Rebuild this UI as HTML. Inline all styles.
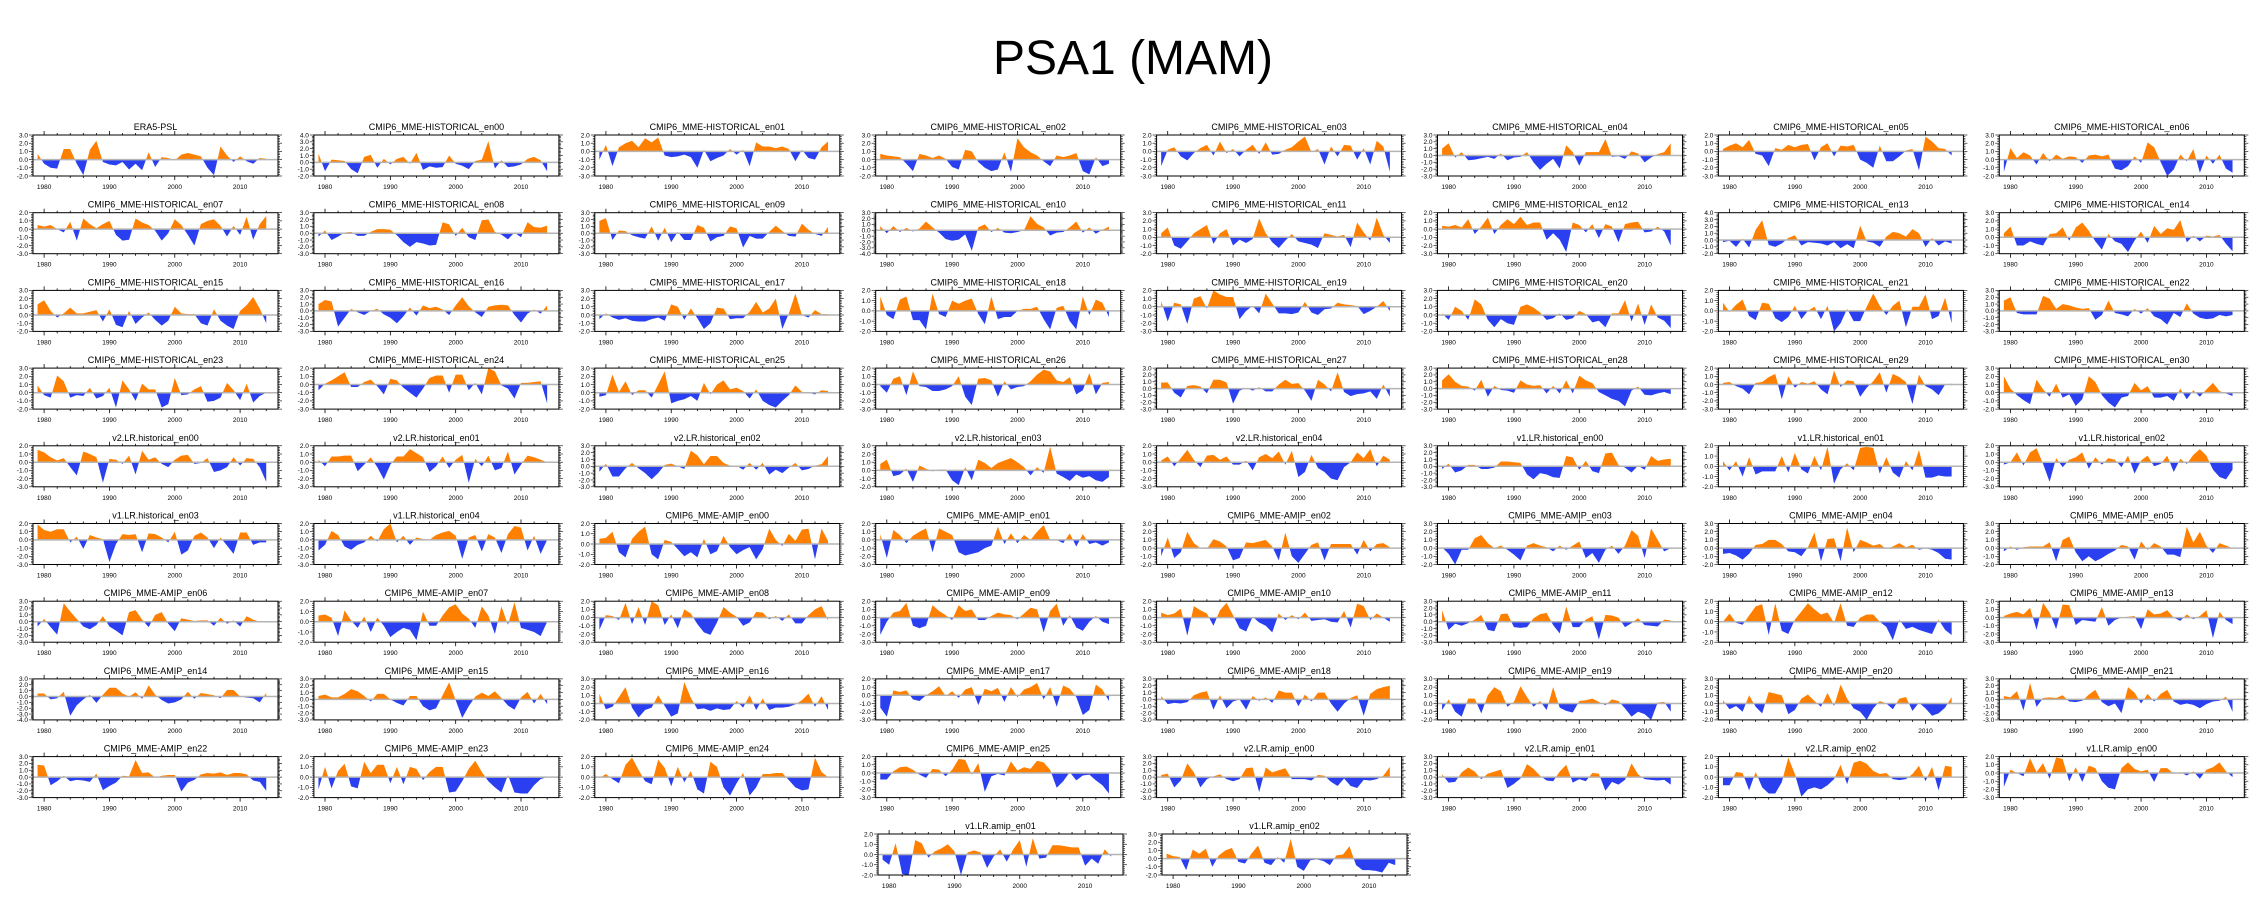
<!DOCTYPE html>
<html><head><meta charset="utf-8"><title>PSA1 (MAM)</title>
<style>
html,body{margin:0;padding:0;background:#fff;}
svg{display:block;font-family:"Liberation Sans",Arial,sans-serif;}
</style></head>
<body>
<svg id="fig" width="2267" height="919" viewBox="0 0 2267 919" xmlns="http://www.w3.org/2000/svg">
<rect width="2267" height="919" fill="#fff"/>
<text x="1133" y="74" font-size="48" text-anchor="middle" fill="#000">PSA1 (MAM)</text>
</svg>
<script>
const titles = ["ERA5-PSL"];
for (let i = 0; i <= 30; i++) titles.push("CMIP6_MME-HISTORICAL_en" + String(i).padStart(2, "0"));
for (let i = 0; i <= 4; i++) titles.push("v2.LR.historical_en0" + i);
for (let i = 0; i <= 4; i++) titles.push("v1.LR.historical_en0" + i);
for (let i = 0; i <= 25; i++) titles.push("CMIP6_MME-AMIP_en" + String(i).padStart(2, "0"));
for (let i = 0; i <= 2; i++) titles.push("v2.LR.amip_en0" + i);
for (let i = 0; i <= 2; i++) titles.push("v1.LR.amip_en0" + i);

const years = [];
for (let y = 1979; y <= 2014; y++) years.push(y);
const xTicks = [1980, 1990, 2000, 2010];

const yMax = [3,4,2,3,2,3,2,3, 2,3,3,3,3,2,4,3, 3,3,3,2,2,3,2,3, 3,2,3,2,3,3,2,3, 2,2,3,3,2,3,2,2, 2,2,2,2,3,3,3,3, 3,2,2,2,2,3,2,2, 3,3,3,2,3,3,3,3, 3,2,2,2,3,3,2,2, 2,3];
const yMin = [-2,-2,-3,-2,-3,-3,-3,-2, -3,-3,-3,-4,-2,-3,-2,-2, -2,-3,-2,-2,-3,-2,-2,-3, -2,-3,-2,-3,-3,-3,-3,-2, -3,-3,-3,-2,-3,-3,-2,-3, -3,-3,-2,-3,-2,-2,-2,-2, -3,-2,-3,-3,-3,-3,-2,-3, -4,-3,-2,-3,-3,-2,-2,-3, -3,-2,-2,-3,-3,-3,-2,-3, -2,-2];

const series = [
[0.7,-0.5,-1.0,-1.1,1.3,1.3,-0.5,-1.9,1.2,2.3,-0.3,-0.6,-0.7,-0.3,-1.2,-0.5,-1.3,0.9,-0.9,0.3,0.2,-0.1,0.6,0.8,0.6,0.4,-1.0,-1.9,1.6,0.5,-0.3,0.4,-0.2,-0.5,0.2,0.1],
[1.3,-1.3,0.4,0.3,0.2,-1.0,-1.6,0.8,1.1,-0.8,0.5,-0.3,0.5,0.8,-0.2,1.4,-1.1,-0.6,-0.8,-0.7,1.0,-0.2,-0.5,-1.0,0.2,0.4,3.1,-0.9,0.3,-0.7,-0.6,-0.3,0.5,0.8,0.3,-1.3],
[-1.0,0.8,-1.8,0.5,1.0,1.3,0.5,1.6,1.1,1.7,-0.5,-0.7,-0.6,-0.4,-0.7,-2.0,0.2,-1.2,-0.8,-0.5,0.3,-0.4,0.2,-1.8,1.1,0.6,0.6,0.4,0.6,0.3,-1.2,0.2,-0.8,-1.0,0.5,1.2],
[0.7,0.5,0.4,0.3,-0.5,-1.4,0.7,0.5,0.2,0.5,0.1,-0.9,-1.2,1.2,1.0,-0.3,-1.0,-1.4,-1.2,0.9,-1.5,2.6,1.5,0.9,0.5,-0.2,-0.8,0.5,0.3,0.5,0.8,-1.4,-1.8,0.3,-0.8,-0.5],
[-1.8,0.2,0.5,-0.6,-1.1,-0.2,0.4,0.8,-0.5,1.2,-0.2,0.3,-0.6,0.2,0.8,-0.3,1.1,-0.4,-0.3,0.2,0.5,1.2,1.8,-0.1,0.3,-1.6,0.6,-0.6,0.8,0.7,-1.0,0.4,-1.6,1.3,0.6,-2.5],
[1.0,1.8,-0.3,0.5,-0.7,-0.6,-0.4,-0.2,-0.5,0.3,-0.7,-0.3,-0.2,0.5,-1.0,-2.1,-1.2,-0.5,-1.9,1.5,0.5,-1.5,0.5,0.5,0.5,2.4,-0.2,-0.1,-0.5,0.6,0.3,-1.0,-0.3,0.2,0.5,1.8],
[0.3,0.7,1.0,0.5,1.4,-0.3,-0.5,-1.8,0.4,0.2,0.8,0.5,0.8,0.9,-1.1,0.5,1.0,-0.6,0.7,0.6,0.8,-1.0,-1.4,-2.0,0.7,-1.2,-1.2,-0.6,0.1,0.3,-2.3,1.8,1.2,0.4,0.3,-0.5],
[-1.5,1.4,0.2,0.9,0.5,-0.6,0.8,-0.2,0.6,0.1,0.4,0.3,-0.4,0.5,0.6,0.4,0.6,-1.1,-1.3,-0.8,0.4,-0.4,2.1,1.5,-0.3,-2.0,-1.2,0.6,-0.2,1.3,-1.6,0.5,-0.5,0.6,-1.1,-1.6],
[0.5,0.3,0.5,0.0,-0.4,0.9,-1.4,1.3,0.6,0.1,0.6,1.0,-0.7,-1.4,-1.3,1.3,0.8,0.5,-0.2,-1.4,-0.5,1.2,0.5,-0.7,-2.0,0.6,1.0,1.2,0.4,-0.9,0.4,-0.7,1.5,-1.3,0.6,1.6],
[-0.5,0.4,-1.0,-0.5,0.1,0.2,-0.4,-0.4,0.2,0.6,0.6,0.5,-0.3,-1.3,-2.0,-1.3,-1.5,-1.8,-1.7,1.6,1.3,-0.4,0.8,-0.6,-1.0,1.9,2.0,0.2,-0.2,-0.9,0.1,-0.6,1.6,0.9,0.8,1.1],
[1.8,2.2,-1.0,0.4,0.3,-0.3,-0.6,-0.8,1.0,-1.1,0.8,-1.3,0.2,-1.0,-1.0,1.2,0.8,-1.2,-0.6,-0.4,1.0,0.7,-2.1,-0.4,-0.8,-0.8,0.2,1.1,0.3,-0.4,-0.5,1.4,0.5,-0.1,-0.4,0.9],
[0.7,-0.5,0.7,-0.3,0.4,-0.2,0.3,1.5,0.5,-0.4,-1.5,-1.8,-1.6,-0.7,-3.5,0.5,1.0,-0.3,0.4,-0.4,-0.5,-0.3,0.0,2.4,1.1,0.5,-0.9,-0.4,-0.3,0.5,1.5,-0.4,0.5,-0.6,0.1,0.6],
[0.5,1.2,-1.0,-1.4,-0.5,0.5,1.0,1.5,-0.8,0.5,1.0,-1.0,-0.3,-0.7,-0.2,2.3,0.5,-0.6,-1.3,-0.4,0.4,-0.5,-0.7,-0.9,-1.3,0.5,0.3,0.1,0.3,-1.2,1.8,0.6,-0.4,2.4,0.3,-0.7],
[0.4,0.3,0.5,0.2,1.2,-0.6,0.3,1.4,-0.6,0.5,1.2,0.6,1.5,0.5,0.8,0.8,-1.3,-0.5,-1.3,-2.8,0.8,0.5,-0.4,0.6,-1.1,0.6,0.3,-1.6,0.6,0.8,0.9,-0.4,-0.3,0.3,-0.3,-2.0],
[-0.3,-0.1,-1.0,0.2,-1.1,1.5,2.9,-0.7,-1.0,-0.5,0.3,0.7,-0.8,-0.3,-0.4,-0.5,-0.8,-0.3,-1.2,-0.6,-1.2,2.1,-0.2,-0.4,-1.0,0.5,1.2,1.0,0.5,1.6,1.0,-1.0,0.3,-0.8,-0.2,-0.5],
[0.5,1.3,-1.0,-1.0,-0.5,-0.8,-1.0,0.4,0.5,1.2,-0.4,1.2,1.8,0.8,-0.5,-1.5,0.4,-0.5,-0.8,-1.8,-0.4,0.7,-0.7,1.4,0.4,1.1,0.9,2.1,-0.6,0.2,-0.5,0.2,0.1,0.3,-0.8,-1.7],
[1.3,1.8,0.5,-0.3,0.2,0.9,0.2,0.2,0.4,0.6,-0.8,0.7,-1.2,-1.5,0.5,-1.1,-0.3,0.3,-0.6,-1.3,-0.7,1.0,0.2,0.1,0.1,-1.0,-1.3,0.7,-0.7,-1.3,-1.7,0.5,1.2,2.2,0.8,-1.0],
[1.0,1.6,1.4,-2.3,-1.0,0.3,-0.2,-0.6,0.0,0.3,-0.5,-1.0,-1.8,-0.8,0.5,-0.7,0.8,0.4,0.6,0.2,-0.6,0.8,2.0,0.7,-0.2,-0.9,0.6,0.8,0.9,0.8,-0.6,-1.7,-0.4,0.2,-0.4,0.8],
[-0.5,0.2,-0.3,-0.6,-0.4,-0.7,-0.8,-0.8,-0.5,-0.3,-0.7,1.3,1.0,-0.6,0.8,-0.4,-1.7,-1.0,0.9,0.8,-0.5,-0.4,-0.4,0.4,1.6,0.3,0.8,2.0,-1.7,0.2,2.6,0.0,-0.3,0.6,0.1,0.1],
[1.4,-0.4,-0.8,1.1,1.4,-0.9,-0.9,-1.8,1.7,-0.3,-0.6,1.0,0.7,1.0,1.2,-0.3,-1.3,1.4,-0.8,-0.6,-0.6,0.0,0.2,0.2,0.4,-0.8,-1.8,0.3,0.5,-1.0,-1.8,1.4,-0.4,1.1,0.8,-0.6],
[0.7,-1.8,0.5,0.3,-2.1,1.0,1.3,-0.2,2.0,1.5,1.2,1.2,-1.5,-0.5,0.1,-0.8,1.6,0.4,-0.8,-0.8,-0.9,-0.7,0.6,-0.7,-1.0,-0.3,-0.2,0.5,0.3,0.2,0.1,-0.9,-0.5,0.0,0.7,-0.5],
[0.2,-0.6,1.0,0.5,-0.6,1.9,1.3,-0.6,-1.5,-0.5,-1.0,-1.2,1.0,1.3,0.9,0.3,-0.6,-0.4,0.2,-0.6,-0.4,0.5,0.1,-0.9,-0.7,-1.5,0.2,0.2,1.8,-0.8,1.4,-1.2,1.3,-0.3,-0.7,-1.6],
[0.8,-0.1,0.6,1.1,-0.5,-0.9,0.8,0.7,-0.7,-1.1,-0.6,0.5,-0.8,0.0,0.4,-0.8,0.5,-2.0,-1.2,0.2,-1.0,-1.0,0.4,1.7,0.5,-0.4,0.5,1.0,-1.6,0.4,0.4,1.6,-0.8,-0.5,1.3,-1.2],
[1.5,2.0,-0.3,-0.5,-0.5,-0.5,2.2,1.8,0.3,1.0,0.8,0.5,0.3,0.4,-1.3,-0.6,1.5,-0.3,-0.5,-0.8,0.3,-0.4,0.4,-0.8,-1.2,-2.0,-0.3,-0.9,1.1,-0.4,-1.0,-1.2,-1.1,-0.6,-0.8,-0.6],
[0.9,-0.3,-0.6,2.1,1.4,-0.6,-0.3,-0.4,0.6,-0.7,-0.4,0.6,-1.8,1.5,0.4,-1.0,1.1,0.4,0.4,-1.8,-1.4,1.8,-0.3,-0.2,0.4,0.8,-1.1,-1.0,-0.6,1.2,0.3,-0.9,1.1,-1.2,-0.4,0.0],
[-0.7,0.1,0.5,1.0,1.5,-0.3,-0.3,0.3,0.6,-0.2,-1.2,0.7,0.5,-0.4,-1.0,-1.6,-0.5,0.8,1.1,1.1,-1.0,1.2,1.2,-0.7,0.2,-1.2,2.0,1.6,-0.1,-0.5,-1.7,0.2,0.2,0.3,0.4,-2.3],
[-0.5,-0.3,2.2,0.1,1.4,-0.3,0.3,0.3,-0.6,1.0,2.6,-1.3,-1.0,-0.8,-0.4,-1.0,1.2,-0.2,1.0,1.5,0.4,0.6,0.2,-0.7,0.4,-1.0,-1.5,-1.8,-1.0,-0.3,0.9,0.1,0.0,-0.2,0.3,0.2],
[-0.2,-1.0,0.7,1.0,-1.3,1.6,-0.2,-0.3,-0.8,-0.8,-0.6,-0.2,1.0,-1.5,-2.5,0.7,0.8,0.5,-1.5,0.4,-0.6,-0.3,-0.2,0.4,1.2,1.8,1.6,0.5,0.3,0.9,-1.2,-0.7,1.4,-1.2,0.2,0.3],
[0.9,0.9,-0.6,-1.3,0.4,0.5,0.3,-0.7,1.3,1.3,0.9,-2.2,-0.3,0.1,-0.3,0.2,-0.4,-0.4,0.6,1.3,0.7,0.8,-0.3,-1.8,1.3,0.6,-0.4,2.4,-0.5,-1.1,-0.8,-0.7,-0.4,-1.5,0.6,-1.2],
[1.2,2.1,1.0,0.4,0.3,-0.3,1.3,-1.2,0.4,-0.2,-0.3,-0.6,1.2,0.6,0.4,0.5,-0.7,0.4,-0.7,1.2,-0.7,1.9,1.2,0.8,-0.5,-1.0,-1.5,-1.8,-2.6,-0.3,0.3,-0.9,-1.0,-0.7,-0.5,-0.8],
[0.2,0.3,-0.2,-0.5,-1.2,0.2,0.3,0.9,1.3,-1.8,1.0,-0.4,0.3,0.1,0.4,-0.6,-1.2,1.7,-0.3,0.5,0.4,-1.5,-0.4,0.4,1.5,-1.0,1.3,0.9,0.3,-2.4,1.2,-0.2,-0.6,-1.3,0.0,0.1],
[2.0,0.5,-0.3,-0.9,-1.4,1.6,0.4,-0.5,1.1,-0.6,-0.2,-1.6,-0.8,2.0,1.3,-0.3,-1.2,-1.8,-0.6,-0.4,1.2,0.3,0.8,-0.6,-0.6,-0.4,-1.0,0.5,-0.8,0.3,-0.5,0.4,1.2,0.2,-0.1,-0.4],
[1.5,1.2,0.6,0.2,0.5,-0.6,-1.6,1.3,1.0,0.6,-2.5,0.4,0.3,-0.2,0.8,-1.5,1.4,0.3,0.6,-0.2,-0.6,0.3,0.8,0.9,-0.2,-0.1,0.5,-1.2,-1.0,-0.6,0.6,-0.4,0.5,0.4,-0.6,-2.4],
[0.3,-0.5,0.7,0.7,0.8,0.8,-1.1,-0.3,0.6,-0.6,-2.1,-0.3,0.7,0.7,1.6,1.1,0.6,-1.2,-0.5,0.7,-0.7,0.3,0.9,-2.5,0.4,-0.5,0.8,-1.0,-0.7,1.3,-1.5,-0.3,0.8,0.6,0.3,0.0],
[-0.8,0.4,-1.5,-1.5,-0.3,0.5,-0.3,-1.0,-1.9,-1.0,0.2,0.4,0.0,-0.4,2.3,1.6,0.3,1.5,1.5,0.5,0.1,0.1,-0.5,0.5,-0.5,0.5,-1.2,-0.5,-1.0,-0.2,0.5,-0.6,-0.4,0.1,0.3,1.5],
[0.8,1.3,-0.7,-0.5,0.2,-1.4,0.6,0.2,-0.1,0.1,0.1,-1.2,-1.8,0.4,-1.2,1.3,0.9,0.3,0.9,1.2,1.5,1.0,0.4,-0.6,0.4,-0.3,2.9,-0.4,-0.8,-1.3,-0.5,-0.9,-0.7,-1.2,-1.4,-0.8],
[0.2,0.7,-0.5,0.5,1.5,0.3,-0.6,0.8,0.9,0.3,0.7,-0.3,-0.3,0.2,-1.0,0.6,1.0,0.5,1.3,-0.3,1.4,-1.8,-1.2,0.9,-0.7,-1.2,-2.0,-2.2,-0.6,0.0,1.2,0.5,1.6,-0.5,0.8,0.3],
[-0.4,0.4,-0.9,-0.6,0.2,0.2,-0.4,-0.4,-0.2,0.7,0.7,0.6,0.5,-1.2,-1.9,-1.0,-1.2,-1.6,-1.7,1.5,1.3,-0.5,0.8,-0.7,-1.0,1.9,2.0,0.2,-0.2,-0.9,0.1,-0.5,1.5,0.8,1.0,1.1],
[0.5,-0.4,0.5,-1.0,0.9,-0.8,-0.5,-0.5,-0.5,1.0,-0.6,1.3,-0.3,-0.7,1.0,-0.4,1.9,-1.7,-0.3,0.3,-0.4,1.8,1.9,1.8,-0.7,0.9,-0.6,-1.1,0.5,-0.4,1.6,-1.1,-1.1,-0.9,-1.0,-1.0],
[-0.3,0.0,1.2,-0.4,1.2,1.7,-0.2,-2.4,0.5,-0.6,0.3,0.6,1.2,-0.8,0.6,-0.3,0.5,0.3,-0.6,0.8,-1.4,0.2,0.8,-0.5,-0.2,0.8,-1.2,0.4,-0.2,0.9,1.6,0.8,-0.9,-1.8,-2.1,-0.9],
[1.9,1.2,1.0,1.3,1.3,-0.3,0.4,-1.1,0.6,0.3,0.1,-2.7,-0.5,0.7,0.6,0.7,-1.5,0.8,0.7,0.3,-0.3,1.0,-1.8,-1.3,0.5,0.9,0.3,-1.0,0.3,-0.7,-1.7,0.9,0.9,-0.6,-0.3,-0.3],
[-1.3,-0.6,1.1,0.6,-0.8,-1.2,-0.6,-0.3,0.5,-0.2,1.3,2.0,-0.3,0.5,-0.6,0.3,0.1,0.0,0.6,0.9,1.1,0.5,-2.3,0.3,0.6,-1.4,0.7,0.3,-1.6,0.7,1.7,1.5,-1.3,0.5,-1.7,0.0],
[0.5,0.6,1.2,-0.8,-1.3,0.5,1.2,1.7,-1.0,-1.5,0.4,0.2,-0.5,-1.2,-0.8,-1.3,0.5,-1.0,-0.7,0.8,-0.3,-1.0,-0.6,-0.3,-1.5,-0.5,1.5,0.4,-0.2,1.0,0.3,1.4,1.5,-1.5,1.5,0.3],
[0.7,-2.2,1.2,0.6,-0.4,0.5,1.0,1.4,-1.5,1.4,1.0,0.6,-1.5,-1.9,-1.7,-1.5,-1.0,-0.7,1.6,-0.5,0.8,-0.4,0.6,0.0,1.0,1.8,0.0,0.0,-0.4,0.8,-0.8,0.7,-0.5,-0.3,-0.7,-0.3],
[-1.0,1.3,-1.2,-0.5,2.0,0.6,0.0,-0.1,1.1,0.8,0.2,-1.5,-1.2,0.7,0.6,0.8,1.0,0.2,-1.5,1.9,-1.0,-1.8,-0.7,0.4,0.7,-1.5,0.5,0.5,0.5,0.5,-0.8,1.0,-0.4,0.5,0.6,0.1],
[0.1,-0.7,-2.0,-0.2,-0.2,1.2,1.6,0.6,0.0,0.3,-0.2,-0.8,-1.5,0.3,0.6,0.3,0.1,-0.4,0.3,-0.2,0.3,0.8,-1.2,-0.6,-1.8,-0.2,0.3,-0.7,0.3,2.2,1.5,-1.2,2.4,1.0,-0.4,0.0],
[-0.7,-0.6,-0.9,-1.4,-0.7,0.4,0.5,1.0,1.0,0.5,-0.4,-0.5,-1.0,0.1,1.9,-1.6,1.1,1.2,-1.6,2.5,-0.5,1.0,0.7,0.3,0.5,-0.1,0.2,0.6,0.1,0.4,-0.2,0.0,-0.2,-0.6,-1.3,-1.4],
[-0.4,0.2,-0.2,0.1,0.2,0.2,0.2,0.7,-1.6,1.0,1.4,-0.5,-1.6,-1.0,-1.6,-1.2,-0.7,-0.3,0.4,0.2,-1.4,0.8,-0.2,0.6,0.2,-0.8,-0.8,-1.1,2.6,0.7,2.0,0.3,-0.6,0.6,0.3,0.0],
[-0.7,0.4,-0.8,-1.9,2.7,1.5,0.4,-0.7,-1.1,-0.5,0.8,-0.7,-1.3,-2.0,1.4,1.7,0.3,-0.8,1.0,1.4,-0.3,-1.4,0.5,0.3,0.1,0.2,0.2,-0.6,0.6,-0.3,0.2,-0.7,0.8,0.3,0.0,-0.1],
[0.6,0.7,0.4,-1.4,1.1,0.1,-0.6,0.5,-1.0,0.4,-0.4,-1.5,-1.0,-0.6,-0.8,-1.8,1.0,-0.4,-0.4,0.6,1.4,1.7,0.8,0.3,-0.6,1.5,0.6,-1.2,1.5,-0.3,1.9,-0.6,-0.8,-1.0,-1.4,0.0],
[-1.5,0.3,0.2,-0.3,1.8,-0.8,1.3,-0.9,2.0,1.5,-0.9,0.4,-1.3,1.0,0.5,-0.8,-1.8,-2.1,-0.6,1.3,0.6,0.1,-1.0,-0.6,0.7,0.6,-0.2,0.2,-0.4,0.4,-0.7,-0.7,0.3,1.0,1.4,-0.3],
[-2.1,-0.5,0.6,0.8,1.8,-1.0,-1.3,-1.0,1.5,0.8,0.3,-0.3,1.5,0.8,1.0,-0.3,-0.3,0.2,0.6,0.4,0.3,-0.2,0.5,1.2,1.0,-1.8,0.8,1.7,-1.0,0.3,-1.2,-1.6,-0.5,0.2,-0.5,-0.8],
[0.6,0.3,0.5,1.1,-2.2,1.4,0.9,0.5,-1.0,0.9,1.8,0.3,-1.3,-1.7,0.1,-0.6,-1.0,-1.8,0.5,-0.3,0.3,-0.2,0.6,-0.4,-0.3,-0.2,-0.5,-0.6,0.8,-1.2,1.7,1.4,-0.3,0.5,0.0,-0.5],
[1.7,-1.2,-0.3,-0.6,-0.2,0.3,1.0,-1.2,-1.4,1.1,1.2,-0.8,-0.9,-0.8,0.5,1.1,1.3,-0.5,-1.7,2.2,-0.8,-0.8,0.3,0.8,-2.6,1.0,0.9,0.6,-0.8,-0.2,0.5,-0.5,-0.6,-0.7,0.3,0.2],
[0.0,0.8,-0.1,-0.3,0.6,1.5,1.7,-1.3,1.8,-0.9,-1.2,0.2,1.0,1.8,1.2,0.7,0.9,-0.1,1.8,-0.4,-0.5,0.4,0.7,0.7,0.0,-0.5,-1.8,0.2,-0.7,-0.5,-0.8,-1.0,-1.2,0.2,-0.8,-1.3],
[0.2,0.5,0.7,0.4,1.2,-1.5,1.8,0.6,-1.4,1.6,1.5,-0.9,-0.3,-0.4,-0.5,1.3,-1.0,-0.3,0.0,0.1,0.2,-1.4,1.0,0.4,0.5,0.9,0.0,-0.4,0.4,-0.2,0.2,0.9,-2.5,0.7,-0.3,-0.8],
[0.5,0.5,-0.5,-0.3,0.8,-3.3,-1.5,-0.5,0.3,-1.1,0.3,1.5,1.5,0.5,0.0,0.7,-0.4,1.9,0.3,-0.6,-1.2,-1.0,-0.5,0.8,-0.4,0.6,0.4,0.2,-0.3,1.1,1.1,0.0,-0.2,-0.3,-1.0,0.6],
[0.5,0.7,0.3,0.3,0.8,1.5,1.2,0.5,-0.3,0.8,0.8,0.0,-0.5,-0.9,0.5,0.5,-1.0,-1.6,-1.3,0.6,2.5,-0.1,-2.7,-1.0,0.4,1.0,0.5,1.2,0.2,-0.9,-1.5,0.3,1.1,-0.6,0.8,-0.7],
[1.2,-0.7,-0.4,0.8,2.0,-0.5,-1.7,-0.8,-0.5,1.0,-0.3,-1.6,-1.2,2.6,0.7,-0.7,-0.6,-0.9,-0.6,-0.8,-0.7,0.3,-0.5,1.0,-0.8,0.6,-0.8,-0.5,-0.5,-0.4,-0.1,0.4,1.2,-0.4,0.9,-0.8],
[-1.5,-2.6,0.6,0.4,0.6,-0.5,-0.7,0.0,0.5,1.1,-0.1,0.5,-0.3,0.7,1.0,-1.2,0.8,0.5,0.9,-0.8,1.0,-0.2,0.7,1.0,1.5,-0.5,1.0,-1.4,1.2,0.8,-0.2,-2.4,-1.8,1.3,0.7,-0.7],
[0.5,-0.7,-0.5,-0.6,-0.4,0.6,1.0,1.2,-1.5,0.6,-1.3,-0.3,0.0,-1.5,0.5,-0.2,0.3,-0.5,1.3,1.0,1.0,-1.0,0.7,-0.3,1.0,1.0,-0.6,-1.8,-0.6,0.2,0.6,-2.4,0.8,1.5,1.8,2.0],
[-0.8,0.5,-1.0,-1.6,0.6,0.6,-1.2,1.0,2.0,1.5,-0.4,0.2,2.1,0.8,-0.4,0.3,-0.8,2.0,-0.5,-0.9,-1.1,0.3,0.4,0.6,0.2,-0.2,0.5,0.3,-0.6,-1.6,-1.0,-1.3,-2.0,0.1,0.2,-1.0],
[0.4,-0.7,-0.3,-1.0,1.0,-0.4,-1.2,1.4,1.2,1.0,-1.3,-0.8,0.6,1.1,0.3,-0.4,1.3,-0.3,2.3,0.6,-0.6,-1.0,-2.0,-0.6,0.3,0.0,-0.7,0.6,0.8,-0.9,0.1,-0.6,-1.5,-1.2,-0.5,0.8],
[0.5,0.3,1.2,-1.6,2.4,-1.1,0.2,0.3,0.2,0.6,-0.3,-0.4,-0.2,0.7,1.4,-0.4,-1.0,-0.6,-2.0,1.8,1.0,-0.6,0.8,-0.3,0.8,1.4,-0.3,-0.8,-0.6,-0.8,-1.3,-0.7,-0.3,-0.2,0.4,-1.8],
[1.8,1.7,-1.2,-0.6,0.2,-0.6,-0.4,-0.5,-0.7,0.5,-1.9,-1.3,-0.8,0.2,0.1,2.5,0.6,0.7,-0.1,0.2,0.3,0.3,-2.1,-0.8,-0.4,0.4,0.6,0.5,0.7,0.3,0.6,0.6,0.4,-0.5,-0.7,-2.0],
[-1.2,1.0,-1.1,0.6,1.3,-0.9,-1.1,1.5,0.4,1.2,1.2,-0.6,1.0,-0.7,1.0,0.8,-0.3,0.5,1.0,1.0,-1.5,-1.4,-0.4,0.8,1.6,0.5,-0.4,-1.0,-1.5,0.2,-1.5,-1.6,-1.6,-0.8,-0.2,0.0],
[-0.1,0.3,-0.2,-0.6,1.2,1.9,0.7,-0.4,-0.7,1.7,0.9,-0.9,1.0,-0.5,0.6,-1.2,-1.6,1.5,1.0,-1.0,-1.8,-0.6,0.4,-1.8,-1.0,0.3,0.3,0.4,0.4,-0.3,-1.0,-1.3,-1.2,1.9,0.5,0.0],
[-0.8,-0.8,0.2,0.7,0.8,0.4,-0.2,-0.6,0.5,0.4,-0.4,0.4,1.7,1.6,-0.2,1.2,-2.3,-0.4,-0.1,-0.3,1.4,0.3,0.7,0.5,1.5,1.3,0.4,-1.8,-1.0,0.1,-0.9,-0.3,-0.2,-0.9,-1.5,-2.5],
[0.3,0.5,-1.5,-0.5,2.0,0.7,-1.5,-0.3,0.1,0.4,-0.3,-0.6,-0.3,1.3,1.4,-2.2,1.4,0.7,1.0,1.3,-0.3,-0.3,-0.3,-0.5,0.3,0.2,-0.7,-1.3,-0.2,-1.3,-1.6,-0.4,-0.5,-0.3,0.2,1.5],
[0.4,-0.8,-0.7,0.7,1.4,0.8,-0.3,0.5,0.8,1.1,-1.6,-1.0,-0.2,1.9,1.2,0.2,-0.5,-0.6,0.8,1.8,-0.8,-0.3,-0.6,0.6,0.5,-2.0,-0.7,-1.1,-0.4,2.0,0.4,-0.3,-0.4,-0.5,-0.4,-1.1],
[-0.8,-0.8,0.5,0.4,-1.3,0.5,-1.0,-1.6,-1.6,-0.5,1.9,0.3,-1.9,-1.2,-1.0,-1.2,-0.8,-0.2,1.2,-0.7,1.4,1.6,1.3,0.6,0.3,0.4,-0.2,-0.3,-0.2,0.3,1.1,-0.4,1.0,-1.3,1.1,1.0],
[-1.7,0.4,0.0,-0.4,1.8,0.1,1.2,-0.7,1.9,1.7,-1.0,0.7,-1.1,0.9,0.6,-1.0,-1.8,-2.0,0.6,1.3,0.5,0.2,0.4,-1.1,0.6,0.6,-0.1,0.1,-0.3,0.2,-0.7,0.4,0.7,1.3,0.2,-0.5],
[-0.5,-1.0,1.1,-1.9,-2.0,1.4,1.1,-0.3,0.3,0.6,1.0,0.3,-2.0,0.2,0.4,0.2,-1.3,-0.2,0.5,-0.7,0.5,1.4,-1.2,1.6,-0.4,-0.3,0.9,0.9,0.8,0.7,0.7,-1.1,-0.4,-0.9,0.5,-0.2],
[0.6,0.3,0.2,-1.4,1.1,0.6,1.2,-1.0,0.4,1.0,1.3,-0.4,-0.6,0.6,1.6,-0.5,-0.8,0.2,-0.5,2.4,-1.0,-1.5,-0.2,-0.1,-0.3,-0.8,0.4,0.5,1.5,-0.8,-1.4,-1.4,-1.5,-1.7,-0.5,-0.8]
];

const NS = "http://www.w3.org/2000/svg";
const fig = document.getElementById("fig");
const PW = 245, PH = 41;
const X0 = 1978.3, X1 = 2015.8;
function mk(tag, attrs, parent) {
  const e = document.createElementNS(NS, tag);
  for (const k in attrs) e.setAttribute(k, attrs[k]);
  parent.appendChild(e);
  return e;
}
function panelPos(i) {
  if (i < 72) {
    const r = Math.floor(i / 8), c = i % 8;
    return [33 + c * 280.9, 135 + r * 77.7];
  }
  return [i === 72 ? 878 : 1162, 834];
}

for (let i = 0; i < titles.length; i++) {
  const [px, py] = panelPos(i);
  const ymax = yMax[i], ymin = yMin[i];
  const xs = v => px + (v - X0) / (X1 - X0) * PW;
  const ys = v => py + (ymax - v) / (ymax - ymin) * PH;
  const g = mk("g", {}, fig);
  
  

  const t = mk("text", {x: px + PW / 2, y: py - 5, "font-size": 9, "text-anchor": "middle", fill: "#000"}, g);
  t.textContent = titles[i];
  
  

  const z = ys(0);
  const cidA = "ca" + i, cidB = "cb" + i;
  const defs = mk("defs", {}, g);
  const ca = mk("clipPath", {id: cidA}, defs);
  mk("rect", {x: px, y: py, width: PW, height: z - py}, ca);
  const cb = mk("clipPath", {id: cidB}, defs);
  mk("rect", {x: px, y: z, width: PW, height: py + PH - z}, cb);

  const vals = series[i];
  let d = "M" + xs(years[0]).toFixed(2) + "," + z.toFixed(2);
  for (let k = 0; k < vals.length; k++) d += "L" + xs(years[k]).toFixed(2) + "," + ys(vals[k]).toFixed(2);
  d += "L" + xs(years[vals.length - 1]).toFixed(2) + "," + z.toFixed(2) + "Z";
  const pa = mk("path", {d: d, fill: "#ff8000", "clip-path": "url(#" + cidA + ")"}, g);
  
  
  const pb = mk("path", {d: d, fill: "#2a40f0", "clip-path": "url(#" + cidB + ")"}, g);
  
  
  const zl = mk("line", {x1: px, x2: px + PW, y1: z, y2: z, stroke: "#b4b4b4", "stroke-width": 1.5}, g);
  
  

  const fr = mk("rect", {x: px, y: py, width: PW, height: PH, fill: "none", stroke: "#000", "stroke-width": 1}, g);
  
  

  for (let yr = 1980; yr <= 2014; yr += 2) {
    const major = xTicks.indexOf(yr) >= 0;
    const L = major ? 4 : 2;
    mk("line", {x1: xs(yr), x2: xs(yr), y1: py, y2: py - L, stroke: "#000", "stroke-width": 0.8}, g);
    mk("line", {x1: xs(yr), x2: xs(yr), y1: py + PH, y2: py + PH + L, stroke: "#000", "stroke-width": 0.8}, g);
  }
  for (const yr of xTicks) {
    const tl = mk("text", {x: xs(yr), y: py + PH + 13, "font-size": 6.5, "text-anchor": "middle", fill: "#000"}, g);
    tl.textContent = yr;
    
    
  }
  for (let v = ymin; v <= ymax + 1e-9; v += 0.2) {
    const vv = Math.round(v * 10) / 10;
    const major = Math.abs(vv - Math.round(vv)) < 1e-6;
    const L = major ? 4 : 2;
    mk("line", {x1: px, x2: px - L, y1: ys(vv), y2: ys(vv), stroke: "#000", "stroke-width": 0.6}, g);
    mk("line", {x1: px + PW, x2: px + PW + L, y1: ys(vv), y2: ys(vv), stroke: "#000", "stroke-width": 0.6}, g);
  }
  for (let v = ymin; v <= ymax; v++) {
    const yl = mk("text", {x: px - 5, y: ys(v) + 2.3, "font-size": 6.5, "text-anchor": "end", fill: "#000"}, g);
    yl.textContent = v.toFixed(1);
    
    
  }
}
</script>
</body></html>
